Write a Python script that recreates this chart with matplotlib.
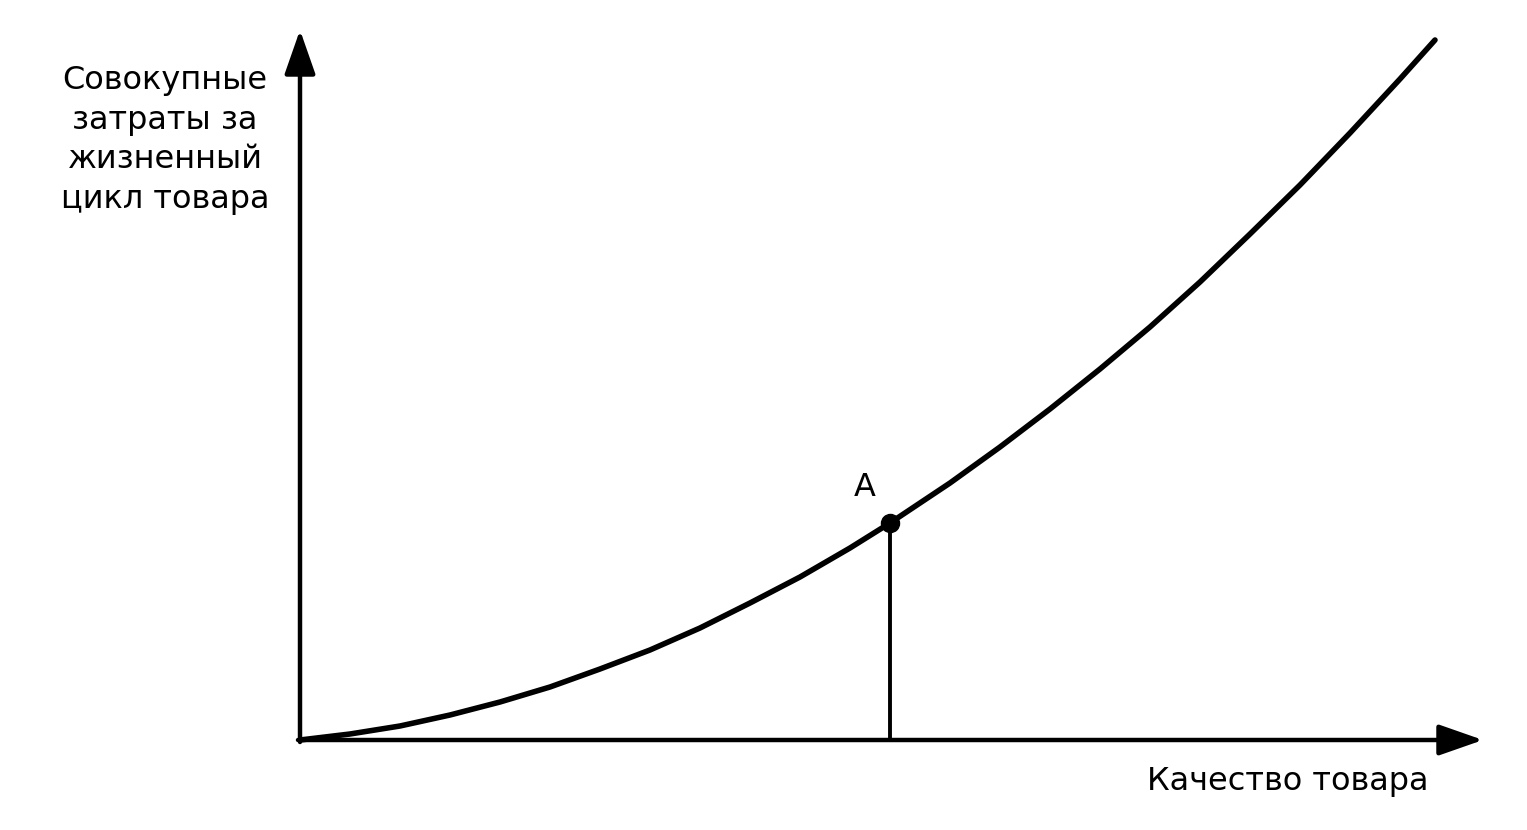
import matplotlib
matplotlib.use("Agg")
import matplotlib.pyplot as plt

# curve (units = 100 px from origin)
quality = [0, 0.5, 1.0, 1.5, 2.0, 2.5, 3.0, 3.5, 4.0, 4.5, 5.0, 5.5, 5.9, 6.5, 7.0,
           7.5, 8.0, 8.5, 9.0, 9.5, 10.0, 10.5, 11.0, 11.35]
cost = [0, 0.06, 0.14, 0.25, 0.38, 0.53, 0.71, 0.90, 1.12, 1.37, 1.63, 1.92, 2.17,
        2.57, 2.93, 3.31, 3.71, 4.13, 4.58, 5.06, 5.55, 6.07, 6.61, 7.00]
point_a = (5.9, 2.17)

y_label = "Совокупные\nзатраты за\nжизненный\nцикл товара"
x_label = "Качество товара"

plt.rcParams['font.family'] = ['DejaVu Sans']

fig = plt.figure(figsize=(15.27, 8.30), dpi=100)
ax = fig.add_axes([0, 0, 1, 1])
ax.set_xlim(-3.0, 12.27)
ax.set_ylim(-0.9, 7.4)
ax.axis('off')

arrow = dict(arrowstyle='-|>,head_length=0.8,head_width=0.28', lw=3.2,
             color='black', mutation_scale=34, shrinkA=0, shrinkB=0)
ax.annotate('', xy=(0, 7.10), xytext=(0, -0.02), arrowprops=arrow)
ax.annotate('', xy=(11.83, 0), xytext=(-0.02, 0), arrowprops=arrow)

ax.plot(quality, cost, color='black', lw=4, solid_capstyle='round',
        solid_joinstyle='round')
ax.plot([point_a[0], point_a[0]], [0, point_a[1]], color='black', lw=2.8)
ax.plot(*point_a, 'o', color='black', markersize=13)

ax.text(point_a[0] - 0.25, point_a[1] + 0.36, "A", fontsize=23,
        ha='center', va='center')
ax.text(-1.35, 6.0, y_label, fontsize=23, ha='center', va='center',
        linespacing=1.35)
ax.text(9.88, -0.41, x_label, fontsize=23, ha='center', va='center')

fig.savefig('out.png', dpi=100)
